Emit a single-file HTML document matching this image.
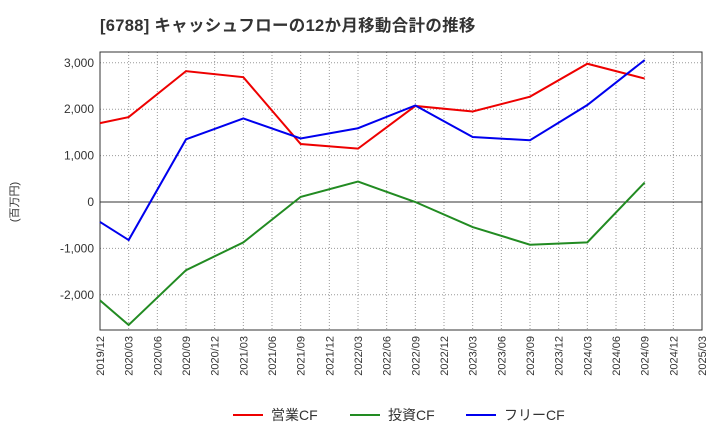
<!DOCTYPE html>
<html><head><meta charset="utf-8">
<style>
body{margin:0;background:#fff;font-family:"Liberation Sans","Noto Sans CJK JP",sans-serif;}
svg text{font-family:"Liberation Sans","Noto Sans CJK JP",sans-serif;}
</style></head>
<body>
<svg width="720" height="440" viewBox="0 0 720 440" xmlns="http://www.w3.org/2000/svg">
<text x="100" y="31" font-size="16.5" font-weight="bold" fill="#333" letter-spacing="0.3">[6788]  キャッシュフローの12か月移動合計の推移</text>
<g id="grid"></g>
<g id="axes"></g>
<g id="series"></g>
<text transform="translate(18,202) rotate(-90)" font-size="11" text-anchor="middle" fill="#333">(百万円)</text>
<g>
<line x1="233" y1="415" x2="263" y2="415" stroke="#e00" stroke-width="2"/>
<text x="271" y="420" font-size="14" fill="#333">営業CF</text>
<line x1="350" y1="415" x2="380" y2="415" stroke="#228b22" stroke-width="2"/>
<text x="388" y="420" font-size="14" fill="#333">投資CF</text>
<line x1="466" y1="415" x2="496" y2="415" stroke="#00e" stroke-width="2"/>
<text x="504" y="420" font-size="14" fill="#333">フリーCF</text>
</g>
</svg>
<script>
const xLabels=["2019/12","2020/03","2020/06","2020/09","2020/12","2021/03","2021/06","2021/09","2021/12","2022/03","2022/06","2022/09","2022/12","2023/03","2023/06","2023/09","2023/12","2024/03","2024/06","2024/09","2024/12","2025/03"];
const yTicks=[3000,2000,1000,0,-1000,-2000];
const pointIdx=[0,1,3,5,7,9,11,13,15,17,19];
const operatingCF=[1700,1830,2820,2690,1250,1150,2070,1950,2270,2980,2660];
const investingCF=[-2120,-2650,-1470,-870,110,440,0,-540,-920,-870,420];
const freeCF=[-430,-820,1350,1800,1370,1590,2080,1400,1330,2090,3060];

const NS="http://www.w3.org/2000/svg";
const L=100,R=702,T=52,B=330;
const x=i=>L+(R-L)*i/(xLabels.length-1);
const y=v=>202-v*0.0464;
function mk(tag,attrs,parent){const e=document.createElementNS(NS,tag);for(const k in attrs)e.setAttribute(k,attrs[k]);parent.appendChild(e);return e;}
const grid=document.getElementById('grid'),axes=document.getElementById('axes'),series=document.getElementById('series');
mk('rect',{x:L,y:T,width:R-L,height:B-T,fill:'none',stroke:'#333','stroke-width':1},axes);
xLabels.forEach((lb,i)=>{
  const l=mk('line',{x1:x(i),x2:x(i),y1:T,y2:B,stroke:'#999','stroke-dasharray':'1,2'},grid);
  
  
  const t=mk('text',{transform:`translate(${x(i)+4},${B+6}) rotate(-90)`,'font-size':11,'text-anchor':'end',fill:'#333'},axes);
  t.textContent=lb;
  
  
});
yTicks.forEach(v=>{
  const l=mk('line',{x1:L,x2:R,y1:y(v),y2:y(v),stroke:v===0?'#333':'#999','stroke-dasharray':v===0?'':'1,2'},grid);
  
  
  const t=mk('text',{x:L-6,y:y(v)+4,'font-size':12,'text-anchor':'end',fill:'#333'},axes);
  t.textContent=v.toLocaleString('en-US');
  
  
});
function line(vals,color,name){
  const p=mk('polyline',{points:vals.map((v,k)=>x(pointIdx[k])+','+y(v)).join(' '),fill:'none',stroke:color,'stroke-width':2},series);
  
  
}
line(operatingCF,'#e00','operating-cf-line');
line(investingCF,'#228b22','investing-cf-line');
line(freeCF,'#00e','free-cf-line');
</script>
</body></html>
